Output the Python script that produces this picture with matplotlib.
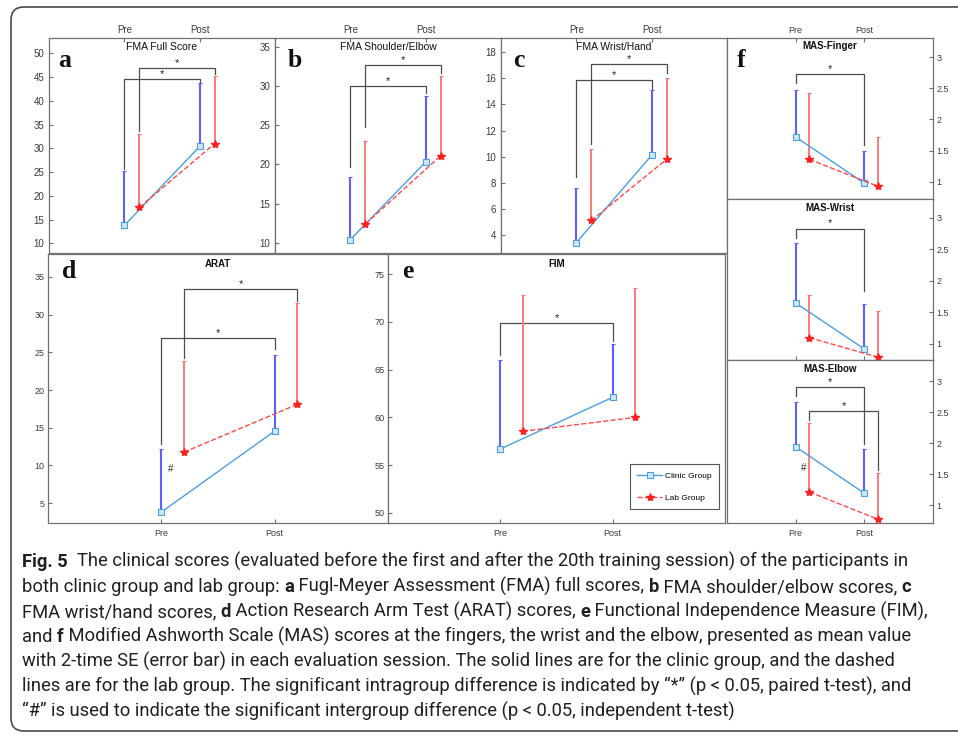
import matplotlib
matplotlib.use("Agg")
import matplotlib.pyplot as plt
import numpy as np
from matplotlib.patches import FancyBboxPatch
from matplotlib.ticker import FormatStrFormatter
from matplotlib import font_manager as fm

# ---------------- data ----------------
sessions = ["Pre", "Post"]
groups = ["Clinic Group", "Lab Group"]
panel_titles = ["FMA Full Score", "FMA Shoulder/Elbow", "FMA Wrist/Hand",
                "ARAT", "FIM", "MAS-Finger", "MAS-Wrist", "MAS-Elbow"]

clinic_mean = [[13.8, 30.4], [10.4, 20.3], [3.4, 10.1], [3.8, 14.55],
               [56.7, 62.1], [1.72, 0.98], [1.65, 0.92], [1.94, 1.19]]
clinic_err = [[11.4, 13.3], [8.0, 8.4], [4.2, 5.0], [8.35, 10.05],
              [9.3, 5.6], [0.75, 0.51], [0.95, 0.72], [0.72, 0.71]]
lab_mean = [[17.6, 31.0], [12.4, 21.1], [5.1, 9.8], [11.75, 18.1],
            [58.55, 60.0], [1.36, 0.93], [1.10, 0.79], [1.21, 0.77]]
lab_err = [[15.4, 14.2], [10.6, 10.1], [5.5, 6.2], [12.15, 13.4],
           [14.25, 13.5], [1.06, 0.79], [0.68, 0.73], [1.11, 0.75]]

# significance brackets: [left leg start, top, right leg end]
sig_clinic = [[25.6, 44.5, 43.9], [19.6, 30.0, 29.1], [8.4, 15.9, 15.2],
              [12.8, 26.9, 25.4], [66.5, 69.9, 68.0], [2.58, 2.73, 1.59],
              [2.68, 2.83, 1.84], [2.76, 2.90, 1.98]]
sig_lab = [[33.6, 46.8, 45.6], [24.7, 32.7, 31.7], [11.0, 17.1, 16.4],
           [24.2, 33.4, 31.8], None, None, None, [2.37, 2.52, 1.56]]
hash_marks = [None, None, None, [1.06, 9.5], None, None, None, [1.07, 1.6]]

ylims = [(8.0, 53.2), (8.7, 36.1), (2.6, 19.1), (2.35, 38.05),
         (48.95, 77.1), (0.727, 3.305), (0.746, 3.30), (0.71, 3.34)]
yticks = [np.arange(10, 51, 5), np.arange(10, 36, 5), np.arange(4, 19, 2),
          np.arange(5, 36, 5), np.arange(50, 76, 5),
          [1, 1.5, 2, 2.5, 3], [1, 1.5, 2, 2.5, 3], [1, 1.5, 2, 2.5, 3]]

caption_lines = [
    [("Fig. 5", True), ("  The clinical scores (evaluated before the first and after the 20th training session) of the participants in", False)],
    [("both clinic group and lab group: ", False), ("a", True), (" Fugl-Meyer Assessment (FMA) full scores, ", False),
     ("b", True), (" FMA shoulder/elbow scores, ", False), ("c", True)],
    [("FMA wrist/hand scores, ", False), ("d", True), (" Action Research Arm Test (ARAT) scores, ", False),
     ("e", True), (" Functional Independence Measure (FIM),", False)],
    [("and ", False), ("f", True), (" Modified Ashworth Scale (MAS) scores at the fingers, the wrist and the elbow, presented as mean value", False)],
    [("with 2-time SE (error bar) in each evaluation session. The solid lines are for the clinic group, and the dashed", False)],
    [("lines are for the lab group. The significant intragroup difference is indicated by \u201c*\u201d (p < 0.05, paired t-test), and", False)],
    [("\u201c#\u201d is used to indicate the significant intergroup difference (p < 0.05, independent t-test)", False)],
]

# ---------------- layout ----------------
W, H = 958, 737
plt.rcParams["font.family"] = ["Liberation Sans", "DejaVu Sans"]
fig = plt.figure(figsize=(W / 100, H / 100), dpi=100)
fig.patch.set_facecolor("white")

boxes = [(49, 38, 275, 253), (275, 38, 501, 253), (501, 38, 727, 253),
         (48, 254, 388, 523), (388, 254, 725, 523),
         (727, 38, 933, 199), (727, 199, 933, 360), (727, 360, 933, 523)]
letter_pos = [(58, 67), (288, 67), (513, 67), (62, 278), (402, 278), (737, 67)]
title_off = [9, 9, 9, 10, 10, 8, 9, 9]
xtop = [True, True, True, False, False, True, False, False]
xlabels_on = [True, True, True, True, True, True, False, True]
yright = [False, False, False, False, False, True, True, True]
ypad = [3.5, 3.5, 3.5, 2.5, 2.5, 2.5, 2.5, 2.5]
tick_size = [7, 7, 7, 6.5, 6.5, 6.5, 6.5, 6.5]

AXC = "#707070"
BLUE_LINE = "#4a9fe3"
BLUE_ERR = "#5f5fff"
RED_LINE = "#ff4848"
RED_ERR = "#ff7070"

bg = fig.add_axes([0, 0, 1, 1], zorder=-1)
bg.set_xlim(0, W)
bg.set_ylim(H, 0)
bg.axis("off")
bg.add_patch(FancyBboxPatch((11, 7), 980 - 11, 731 - 7,
                            boxstyle="round,pad=0,rounding_size=13",
                            fc="none", ec="#4a4a4a", lw=1.2))

for i, (x0, y0, x1, y1) in enumerate(boxes):
    ax = fig.add_axes([x0 / W, 1 - y1 / H, (x1 - x0) / W, (y1 - y0) / H])
    ax.set_facecolor("white")
    ax.set_xlim(0, 3)
    ax.set_ylim(*ylims[i])
    for s in ax.spines.values():
        s.set_color(AXC)
        s.set_linewidth(0.9)
    ax.set_xticks([1, 2])
    ax.set_xticklabels(sessions if xlabels_on[i] else ["", ""])
    ax.set_yticks(yticks[i])
    ax.yaxis.set_major_formatter(FormatStrFormatter("%g"))
    if xtop[i]:
        ax.xaxis.tick_top()
    else:
        ax.xaxis.tick_bottom()
    if yright[i]:
        ax.yaxis.tick_right()
    ax.tick_params(axis="both", direction="in", length=3, width=0.8, color=AXC,
                   labelsize=tick_size[i], labelcolor="#3a3a3a")
    ax.tick_params(axis="x", pad=2.5 if xtop[i] else 4.5)
    ax.tick_params(axis="y", pad=ypad[i])

    x = np.array([1.0, 2.0])
    xl = x + 0.2
    cm = np.array(clinic_mean[i]); ce = np.array(clinic_err[i])
    lm = np.array(lab_mean[i]); le = np.array(lab_err[i])

    # significance brackets
    for sig, xs in ((sig_clinic[i], x), (sig_lab[i], xl)):
        if sig is None:
            continue
        ax.plot([xs[0], xs[0], xs[1], xs[1]], [sig[0], sig[1], sig[1], sig[2]],
                color="#4d4d4d", lw=0.9, zorder=1)
        ax.annotate("*", ((xs[0] + xs[1]) / 2, sig[1]), xytext=(0, 1.5),
                    textcoords="offset points", ha="center", va="baseline",
                    fontsize=8, color="#222222")

    ax.errorbar(x, cm, yerr=[np.zeros(2), ce], fmt="none", ecolor=BLUE_ERR,
                elinewidth=1.5, capsize=1.2, capthick=0.8, zorder=2)
    ax.errorbar(xl, lm, yerr=[np.zeros(2), le], fmt="none", ecolor=RED_ERR,
                elinewidth=1.3, capsize=1.2, capthick=0.8, zorder=2)
    h1, = ax.plot(x, cm, "-", color=BLUE_LINE, lw=1.0, marker="s", ms=4.5,
                  mfc="#cfe5f7", mec=BLUE_LINE, mew=0.8, zorder=3)
    h2, = ax.plot(xl, lm, "--", color=RED_LINE, lw=1.0, marker="*", ms=6.0,
                  mfc="#ff2020", mec="#ff2020", zorder=3)
    if hash_marks[i] is not None:
        ax.text(hash_marks[i][0], hash_marks[i][1], "#", fontsize=7,
                color="#333333", ha="left", va="center")

    bold = i >= 3
    h_px = y1 - y0
    ax.text(0.5, 1 - title_off[i] / h_px, panel_titles[i], transform=ax.transAxes,
            ha="center", va="center", fontsize=7 if bold else 7.5,
            fontweight="bold" if bold else "normal", color="#111111")

    if i == 4:
        leg = ax.legend([h1, h2], groups, loc="lower right",
                        bbox_to_anchor=(0.982, 0.052), fontsize=6, frameon=True,
                        fancybox=False, edgecolor="#555555", framealpha=1,
                        handlelength=3.0, handletextpad=0.3, labelspacing=1.7,
                        borderpad=0.9, borderaxespad=0)
        leg.get_frame().set_linewidth(0.8)

# panel letters
for (lx, ly), letter in zip(letter_pos, ["a", "b", "c", "d", "e", "f"]):
    fig.text(lx / W, 1 - ly / H, letter, fontsize=18.5, fontweight="bold",
             family=["Liberation Serif", "DejaVu Serif"], ha="left", va="baseline",
             color="#111111", zorder=5)

# ---------------- caption ----------------
names = {f.name for f in fm.fontManager.ttflist}
cap_family = "Liberation Sans Narrow" if "Liberation Sans Narrow" in names else "Roboto"
renderer = fig.canvas.get_renderer()


def run_width(s, bold, size):
    t = bg.text(0, 0, "|" + s + "|", fontsize=size,
                fontweight="bold" if bold else "normal", family=cap_family)
    w1 = t.get_window_extent(renderer).width
    t.set_text("||")
    w2 = t.get_window_extent(renderer).width
    t.remove()
    return w1 - w2


base = 12.0
w_first = sum(run_width(s, b, base) for s, b in caption_lines[0])
cap_size = base * (905 - 22) / w_first

for k, runs in enumerate(caption_lines):
    xx = 22
    yy = 567 + 25 * k
    for s, b in runs:
        bg.text(xx, yy, s, fontsize=cap_size, fontweight="bold" if b else "normal",
                family=cap_family, ha="left", va="baseline", color="#231f20")
        xx += run_width(s, b, cap_size)

fig.savefig("out.png", dpi=100, facecolor="white")
